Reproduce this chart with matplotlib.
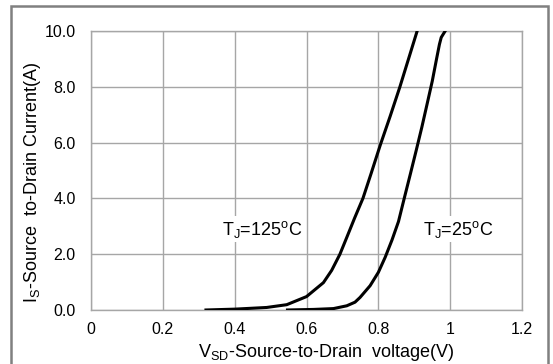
import matplotlib
matplotlib.use("Agg")
import matplotlib.pyplot as plt
from matplotlib.patches import Rectangle

plt.rcParams['font.family'] = ['Liberation Sans', 'DejaVu Sans']
plt.rcParams['mathtext.fontset'] = 'custom'
plt.rcParams['mathtext.rm'] = 'Liberation Sans'

# curves
vsd_125 = [0.320, 0.40, 0.489, 0.545, 0.600, 0.647, 0.670, 0.693, 0.712, 0.734, 0.757,
           0.780, 0.805, 0.833, 0.860, 0.884, 0.908]
is_125 = [0.0, 0.03, 0.09, 0.19, 0.48, 0.98, 1.42, 2.0, 2.6, 3.3, 4.0,
          4.9, 5.9, 6.95, 8.0, 9.0, 10.0]

vsd_25 = [0.547, 0.620, 0.675, 0.712, 0.735, 0.749, 0.777, 0.800, 0.819, 0.838, 0.856,
          0.872, 0.889, 0.905, 0.921, 0.936, 0.950, 0.962, 0.970, 0.975, 0.986]
is_25 = [0.0, 0.02, 0.05, 0.15, 0.28, 0.45, 0.87, 1.35, 1.89, 2.51, 3.17,
         4.0, 4.87, 5.7, 6.55, 7.4, 8.2, 9.0, 9.52, 9.77, 10.0]

xticks = [0, 0.2, 0.4, 0.6, 0.8, 1.0, 1.2]
xlabels = ['0', '0.2', '0.4', '0.6', '0.8', '1', '1.2']
yticks = [0, 2, 4, 6, 8, 10]
ylabels = ['0.0', '2.0', '4.0', '6.0', '8.0', '10.0']

fig = plt.figure(figsize=(5.53, 3.64), dpi=100)
ax = fig.add_axes([0.1646, 0.1484, 0.7794, 0.7664])

ax.plot(vsd_125, is_125, color='black', lw=2.2, solid_joinstyle='round', zorder=3)
ax.plot(vsd_25, is_25, color='black', lw=2.2, solid_joinstyle='round', zorder=3)

ax.set_xlim(0, 1.2)
ax.set_ylim(0, 10)
ax.set_xticks(xticks)
ax.set_xticklabels(xlabels)
ax.set_yticks(yticks)
ax.set_yticklabels(ylabels)
ax.tick_params(length=0, labelsize=11.5, colors='black')
ax.tick_params(axis='x', pad=9)
ax.tick_params(axis='y', pad=11)
ax.grid(True, color='#a6a6a6', lw=1.0)
ax.set_axisbelow(True)
for s in ax.spines.values():
    s.set_color('#a6a6a6')
    s.set_linewidth(1.0)

box = dict(facecolor='white', edgecolor='none', pad=1.5)
ax.text(0.478, 2.90, r'T$\mathregular{_J}$=125$\mathregular{^o}$C', ha='center', va='center',
        fontsize=13, bbox=box, zorder=2)
ax.text(1.022, 2.90, r'T$\mathregular{_J}$=25$\mathregular{^o}$C', ha='center', va='center',
        fontsize=13, bbox=box, zorder=2)

fig.text(0.058, 0.50, r'I$\mathregular{_S}$-Source  to-Drain Current(A)', rotation=90,
         ha='center', va='center', fontsize=13)
fig.text(0.59, 0.032, r'V$\mathregular{_{SD}}$-Source-to-Drain  voltage(V)',
         ha='center', va='center', fontsize=13)

# outer frame of the figure box
fig.patches.append(Rectangle((0.0199, -0.05), 0.971, 1.0335, transform=fig.transFigure,
                             fill=False, edgecolor='#808080', lw=1.8, clip_on=False))

fig.savefig('out.png', dpi=100)
